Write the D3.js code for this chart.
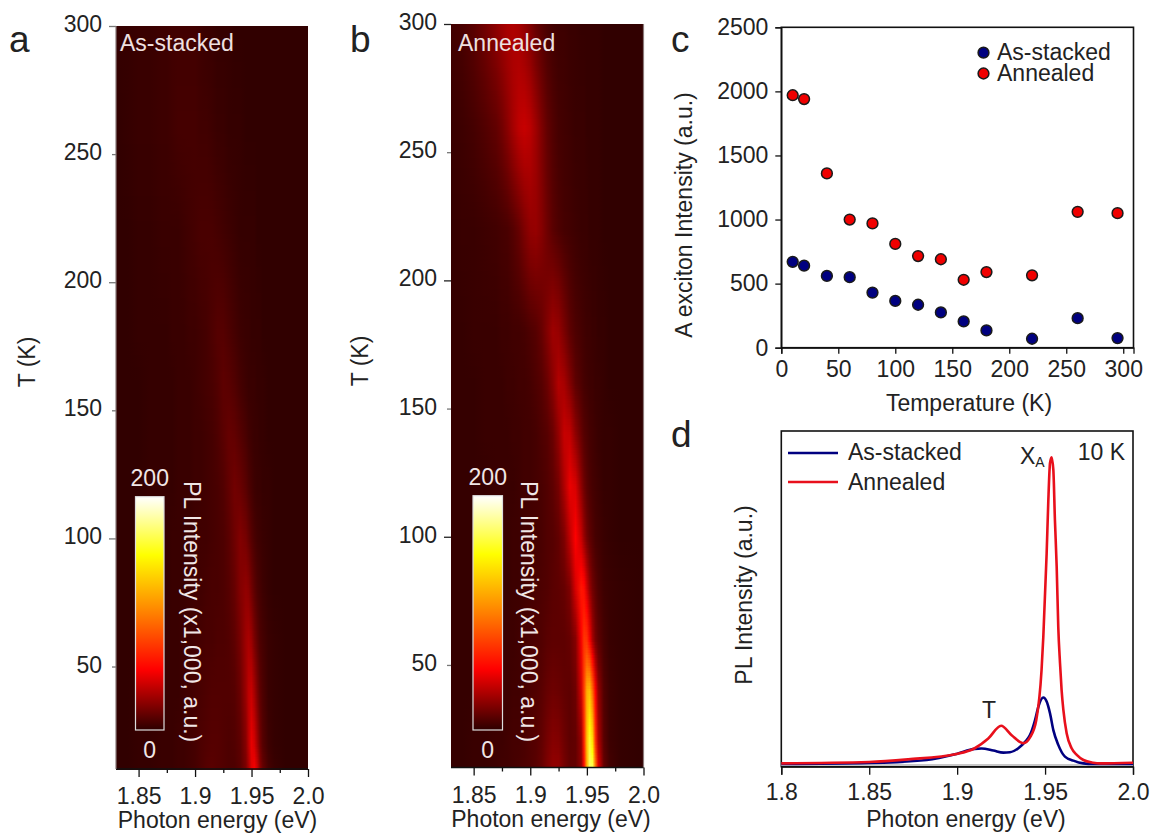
<!DOCTYPE html>
<html>
<head>
<meta charset="utf-8">
<script src="https://cdn.jsdelivr.net/npm/d3@7"></script>
<style>
  body { margin: 0; background: #fff; }
  svg { display: block; font-family: "Liberation Sans", Arial, sans-serif; }
  text { fill: #222; }
</style>
</head>
<body>
<svg id="fig" width="1154" height="834"></svg>
<script>
// panel a, b: PL maps, one row per temperature, one value per energy (x1,000 a.u.)
const mapEnergies = [1.83, 1.84, 1.85, 1.86, 1.87, 1.875, 1.88, 1.885, 1.89, 1.895, 1.9, 1.905, 1.91, 1.915, 1.92, 1.925, 1.93, 1.935, 1.94, 1.945, 1.9475, 1.95, 1.9525, 1.955, 1.9575, 1.96, 1.965, 1.97, 1.98, 2.0];
const mapTemps = [10, 20, 40, 60, 80, 100, 120, 140, 160, 180, 220, 260, 300];
const mapAsStacked = [
  [1, 1, 2, 2, 3, 3, 3, 4, 4, 5, 6, 8, 10, 11, 10, 9, 8, 8, 11, 19, 30, 44, 50, 40, 23, 14, 6, 3, 1, 1],
  [1, 1, 2, 2, 3, 3, 3, 4, 4, 5, 6, 8, 9, 10, 10, 9, 8, 9, 12, 22, 35, 46, 41, 29, 17, 10, 4, 2, 1, 1],
  [1, 1, 2, 2, 2, 3, 3, 3, 4, 5, 6, 7, 8, 9, 9, 9, 9, 10, 15, 27, 36, 38, 30, 20, 12, 8, 3, 2, 1, 1],
  [1, 1, 1, 2, 2, 3, 3, 3, 4, 4, 5, 6, 7, 7, 8, 8, 9, 12, 18, 28, 31, 27, 19, 13, 8, 6, 3, 2, 1, 1],
  [1, 1, 1, 2, 2, 2, 3, 3, 3, 4, 5, 5, 6, 7, 7, 8, 10, 14, 21, 25, 23, 17, 12, 8, 6, 4, 2, 1, 1, 1],
  [1, 1, 1, 2, 2, 2, 3, 3, 3, 3, 4, 5, 5, 6, 7, 8, 11, 16, 21, 18, 14, 10, 7, 5, 4, 3, 2, 1, 1, 1],
  [1, 1, 1, 2, 2, 2, 2, 3, 3, 3, 4, 4, 5, 6, 7, 9, 13, 17, 15, 11, 8, 6, 4, 3, 3, 2, 2, 1, 1, 1],
  [1, 1, 1, 2, 2, 2, 2, 3, 3, 3, 4, 4, 5, 6, 8, 11, 14, 13, 10, 7, 5, 4, 3, 3, 2, 2, 1, 1, 1, 1],
  [1, 1, 1, 2, 2, 2, 2, 3, 3, 3, 4, 5, 6, 7, 9, 12, 11, 9, 6, 4, 3, 3, 3, 2, 2, 2, 1, 1, 1, 1],
  [1, 1, 2, 2, 2, 2, 3, 3, 3, 4, 4, 5, 6, 8, 10, 10, 8, 6, 4, 3, 3, 2, 2, 2, 2, 1, 1, 1, 1, 1],
  [1, 1, 2, 2, 3, 3, 3, 3, 4, 5, 6, 7, 7, 7, 6, 5, 4, 3, 2, 2, 2, 2, 2, 1, 1, 1, 1, 1, 1, 1],
  [1, 2, 3, 3, 4, 4, 5, 6, 6, 6, 6, 5, 5, 4, 3, 3, 2, 2, 2, 1, 1, 1, 1, 1, 1, 1, 1, 1, 1, 1],
  [2, 2, 3, 3, 4, 4, 5, 5, 5, 5, 5, 4, 3, 3, 2, 2, 2, 1, 1, 1, 1, 1, 1, 1, 1, 1, 1, 1, 1, 1],
];
const mapAnnealed = [
  [2, 2, 3, 3, 4, 5, 5, 6, 7, 8, 9, 11, 14, 20, 25, 25, 18, 13, 13, 24, 55, 118, 170, 168, 100, 46, 14, 6, 2, 1],
  [2, 2, 3, 3, 4, 4, 5, 6, 6, 7, 9, 10, 13, 18, 22, 21, 16, 12, 13, 25, 64, 125, 160, 138, 72, 34, 11, 4, 2, 1],
  [2, 2, 2, 3, 3, 4, 4, 5, 5, 6, 8, 9, 11, 14, 16, 15, 13, 12, 16, 40, 75, 118, 125, 92, 52, 26, 9, 4, 2, 1],
  [2, 2, 2, 3, 3, 3, 4, 4, 5, 6, 7, 8, 9, 11, 12, 12, 12, 14, 22, 50, 72, 70, 50, 30, 18, 12, 6, 3, 2, 1],
  [2, 2, 2, 2, 3, 3, 3, 4, 4, 5, 6, 7, 8, 9, 11, 12, 14, 20, 42, 60, 56, 40, 26, 17, 12, 8, 4, 3, 2, 1],
  [2, 2, 2, 2, 3, 3, 3, 4, 4, 5, 6, 6, 7, 9, 10, 13, 20, 36, 52, 38, 26, 17, 12, 9, 6, 5, 3, 2, 1, 1],
  [2, 2, 2, 2, 3, 3, 3, 3, 4, 5, 5, 6, 7, 9, 12, 18, 32, 47, 42, 24, 16, 11, 8, 6, 5, 4, 2, 2, 1, 1],
  [2, 2, 2, 3, 3, 3, 3, 4, 4, 5, 5, 6, 8, 10, 15, 25, 38, 37, 24, 14, 10, 8, 6, 5, 4, 3, 2, 2, 1, 1],
  [2, 2, 2, 3, 3, 3, 4, 4, 5, 5, 6, 8, 10, 15, 23, 33, 30, 21, 12, 8, 6, 5, 4, 4, 3, 3, 2, 1, 1, 1],
  [2, 2, 3, 3, 3, 4, 4, 5, 5, 6, 8, 10, 14, 21, 28, 26, 19, 12, 8, 6, 5, 4, 4, 3, 3, 2, 2, 1, 1, 1],
  [2, 3, 3, 4, 5, 6, 7, 10, 14, 20, 25, 26, 22, 16, 11, 8, 6, 5, 4, 3, 3, 3, 2, 2, 2, 2, 1, 1, 1, 1],
  [3, 4, 6, 9, 13, 17, 23, 30, 36, 38, 35, 28, 20, 13, 9, 6, 5, 4, 3, 3, 3, 2, 2, 2, 2, 2, 1, 1, 1, 1],
  [5, 7, 11, 17, 24, 28, 31, 32, 30, 25, 20, 14, 10, 7, 5, 4, 4, 3, 3, 2, 2, 2, 2, 2, 2, 2, 1, 1, 1, 1],
];
const colorStops = [0, 52, 100, 150, 200];
const colorValues = ['#2d0000', '#ff0000', '#ff8000', '#ffff00', '#ffffff'];

// panel c
const tempPoints = [10, 20, 40, 60, 80, 100, 120, 140, 160, 180, 220, 260, 295];
const excitonAsStacked = [670, 640, 560, 550, 430, 365, 335, 275, 205, 135, 70, 230, 75];
const excitonAnnealed = [1970, 1940, 1360, 1000, 970, 810, 715, 690, 530, 590, 565, 1060, 1050];

// panel d, 10 K spectra
const specEnergyAsStacked = [1.8, 1.85, 1.8827, 1.8997, 1.91, 1.9139, 1.9206, 1.9263, 1.93, 1.9348, 1.9386, 1.9414, 1.9443, 1.9462, 1.949, 1.9509, 1.9528, 1.9547, 1.9575, 1.9613, 1.9661, 1.9718, 1.9774, 2.0];
const specAsStacked = [8, 11, 20, 38, 53, 54, 48, 42, 43, 55, 74, 94, 139, 179, 206, 194, 159, 109, 65, 30, 18, 10, 8, 8];
const specEnergyAnnealed = [1.8, 1.85, 1.8722, 1.8997, 1.91, 1.9177, 1.925, 1.931, 1.9376, 1.9416, 1.945, 1.948, 1.949, 1.9509, 1.9518, 1.9528, 1.9537, 1.9547, 1.9556, 1.9566, 1.9575, 1.9585, 1.9594, 1.9604, 1.9623, 1.9651, 1.968, 1.9718, 1.9774, 1.9812, 2.0];
const specAnnealed = [10, 14, 22, 38, 55, 84, 122, 94, 70, 89, 139, 288, 387, 636, 785, 904, 922, 884, 735, 596, 417, 308, 228, 169, 99, 55, 35, 20, 12, 10, 12];

const mapMajorX = [1.85, 1.9, 1.95, 2.0];
const mapMinorX = [1.875, 1.925, 1.975];
const mapMajorY = [100, 200, 300];
const mapMinorY = [50, 150, 250];
const mapLabelsY = [50, 100, 150, 200, 250, 300];

const fontSize = 23;
const svg = d3.select('#fig');
const defs = svg.append('defs');
const color = d3.scaleLinear().domain(colorStops).range(colorValues).clamp(true);

function addText(x, y, str, opts = {}) {
  const t = svg.append('text')
    .attr('x', x)
    .attr('y', y)
    .attr('font-size', opts.size || fontSize)
    .attr('text-anchor', opts.anchor || 'start')
    .text(str);
  if (opts.fill) t.style('fill', opts.fill);
  if (opts.rotate) t.attr('transform', `rotate(${opts.rotate},${x},${y})`);
  return t;
}

function styleAxis(g, strokeColor = '#111') {
  g.selectAll('.domain').attr('stroke', strokeColor).attr('stroke-width', 1.3);
  g.selectAll('.tick line').attr('stroke', strokeColor).attr('stroke-width', 1.3);
  g.selectAll('text').attr('font-size', fontSize).attr('font-family', null).style('fill', '#222');
}

function rowAt(matrix, T) {
  const i = Math.min(d3.bisectRight(mapTemps, T) - 1, mapTemps.length - 2);
  const k = (T - mapTemps[i]) / (mapTemps[i + 1] - mapTemps[i]);
  return matrix[i].map((v, j) => v + (matrix[i + 1][j] - v) * k);
}

function renderMap(id, matrix, box, edgeSide) {
  const x = d3.scaleLinear().domain([1.83, 2.0]).range([box.left, box.right]);
  const y = d3.scaleLinear().domain([10, 300]).range([box.bottom, box.top]);
  const chart = svg.append('g').attr('shape-rendering', 'crispEdges');

  // one horizontal gradient strip per kelvin
  d3.range(10, 300, 1).forEach((T) => {
    const values = rowAt(matrix, T + 0.5);
    const grad = defs.append('linearGradient').attr('id', `${id}-${T}`);
    mapEnergies.forEach((e, j) => {
      grad.append('stop')
        .attr('offset', (x(e) - box.left) / (box.right - box.left))
        .attr('stop-color', color(values[j]));
    });
    chart.append('rect')
      .attr('x', box.left)
      .attr('y', y(T + 1))
      .attr('width', box.right - box.left)
      .attr('height', y(T) - y(T + 1) + 0.6)
      .attr('fill', `url(#${id}-${T})`);
  });

  const bottom = svg.append('g').attr('transform', `translate(0,${box.bottom})`);
  bottom.call(d3.axisBottom(x).tickValues(mapMajorX).tickSize(8).tickPadding(11)
    .tickFormat((d) => (d === 2 ? '2.0' : String(d))));
  styleAxis(bottom);
  bottom.select('.domain').attr('d', `M${box.left},0H${box.right}`);

  const bottomMinor = svg.append('g').attr('transform', `translate(0,${box.bottom})`);
  bottomMinor.call(d3.axisBottom(x).tickValues(mapMinorX).tickSize(4).tickFormat(''));
  styleAxis(bottomMinor);
  bottomMinor.select('.domain').remove();

  const left = svg.append('g').attr('transform', `translate(${box.left},0)`);
  left.call(d3.axisLeft(y).tickValues(mapMajorY).tickSize(7).tickFormat(''));
  styleAxis(left, edgeSide === 'left' ? '#777' : '#222');
  left.select('.domain').remove();

  const leftMinor = svg.append('g').attr('transform', `translate(${box.left},0)`);
  leftMinor.call(d3.axisLeft(y).tickValues(mapMinorY).tickSize(4).tickFormat(''));
  styleAxis(leftMinor, '#777');
  leftMinor.select('.domain').remove();

  svg.append('line')
    .attr('x1', edgeSide === 'left' ? box.left : box.right)
    .attr('x2', edgeSide === 'left' ? box.left : box.right)
    .attr('y1', box.top)
    .attr('y2', box.bottom)
    .attr('stroke', '#8a7a7a')
    .attr('stroke-width', 1.2);

  mapLabelsY.forEach((t) => {
    addText(box.left - 14, y(t) + 6, String(t), { anchor: 'end' });
  });
}

function renderColorbar(id, box) {
  const scale = d3.scaleLinear().domain([0, 200]).range([box.bottom, box.top]);
  const grad = defs.append('linearGradient')
    .attr('id', id)
    .attr('x1', 0).attr('x2', 0).attr('y1', 1).attr('y2', 0);
  colorStops.forEach((v, i) => {
    grad.append('stop').attr('offset', v / 200).attr('stop-color', colorValues[i]);
  });
  svg.append('rect')
    .attr('x', box.left)
    .attr('y', scale(200))
    .attr('width', box.right - box.left)
    .attr('height', scale(0) - scale(200))
    .attr('fill', `url(#${id})`)
    .attr('stroke', '#ddd')
    .attr('stroke-width', 1.2);
  const mid = (box.left + box.right) / 2;
  addText(mid, scale(200) - 11, '200', { anchor: 'middle', fill: '#f0e6e6' });
  addText(mid, scale(0) + 28, '0', { anchor: 'middle', fill: '#f0e6e6' });
  addText(box.labelX, 481, 'PL Intensity (x1,000, a.u.)', { rotate: 90, fill: '#f0e6e6' });
}

function renderScatter() {
  const box = { left: 781.3, right: 1133.5, top: 27.3, bottom: 347.7 };
  const x = d3.scaleLinear().domain([0, 309]).range([box.left, box.right]);
  const y = d3.scaleLinear().domain([0, 2500]).range([box.bottom, box.top]);

  svg.append('rect')
    .attr('x', box.left).attr('y', box.top)
    .attr('width', box.right - box.left).attr('height', box.bottom - box.top)
    .attr('fill', 'none').attr('stroke', '#111').attr('stroke-width', 1.6);

  const bottom = svg.append('g').attr('transform', `translate(0,${box.bottom})`);
  bottom.call(d3.axisBottom(x).tickValues(d3.range(0, 301, 50)).tickSize(6).tickPadding(7).tickFormat(d3.format('d')));
  styleAxis(bottom);
  const left = svg.append('g').attr('transform', `translate(${box.left},0)`);
  left.call(d3.axisLeft(y).tickValues(d3.range(0, 2501, 500)).tickSize(6).tickPadding(7).tickFormat(d3.format('d')));
  styleAxis(left);

  [[excitonAsStacked, '#000080'], [excitonAnnealed, '#f00000']].forEach(([vals, fill]) => {
    svg.append('g').selectAll('circle').data(tempPoints).join('circle')
      .attr('cx', (d) => x(d))
      .attr('cy', (d, i) => y(vals[i]))
      .attr('r', 5.4)
      .attr('fill', fill)
      .attr('stroke', '#1a1a1a')
      .attr('stroke-width', 1.5);
  });

  // legend
  [['As-stacked', '#000080', 52.7], ['Annealed', '#f00000', 73.5]].forEach(([name, fill, ly]) => {
    svg.append('circle').attr('cx', 983.5).attr('cy', ly).attr('r', 5.4)
      .attr('fill', fill).attr('stroke', '#1a1a1a').attr('stroke-width', 1.5);
    addText(997, ly + 7, name);
  });

  addText(969, 411, 'Temperature (K)', { anchor: 'middle' });
  addText(692, 215, 'A exciton Intensity (a.u.)', { anchor: 'middle', rotate: -90 });
}

function renderSpectra() {
  const box = { left: 781.3, right: 1133, top: 431, bottom: 766.7 };
  const x = d3.scaleLinear().domain([1.8, 2.0]).range([box.left, box.right]);
  const y = d3.scaleLinear().domain([0, 1000]).range([box.bottom, box.top]);

  svg.append('rect')
    .attr('x', box.left).attr('y', box.top)
    .attr('width', box.right - box.left).attr('height', box.bottom - box.top)
    .attr('fill', 'none').attr('stroke', '#111').attr('stroke-width', 1.6);

  // pale baseline just above the axis
  svg.append('line')
    .attr('x1', x(1.8)).attr('x2', x(2.0))
    .attr('y1', y(5)).attr('y2', y(5))
    .attr('stroke', '#c8c8c8').attr('stroke-width', 2);

  const bottom = svg.append('g').attr('transform', `translate(0,${box.bottom})`);
  bottom.call(d3.axisBottom(x).tickValues([1.8, 1.85, 1.9, 1.95, 2.0]).tickSize(8).tickPadding(9)
    .tickFormat((d) => (d === 2 ? '2.0' : String(d))));
  styleAxis(bottom);

  const line = d3.line().x((d) => x(d[0])).y((d) => y(d[1])).curve(d3.curveMonotoneX);
  [[specEnergyAsStacked, specAsStacked, '#000080'], [specEnergyAnnealed, specAnnealed, '#e8101c']].forEach(([es, vs, c]) => {
    svg.append('path')
      .attr('d', line(es.map((e, i) => [e, vs[i]])))
      .attr('fill', 'none')
      .attr('stroke', c)
      .attr('stroke-width', 2.6);
  });

  [['As-stacked', '#000080', 453, 459.5], ['Annealed', '#e8101c', 482, 490]].forEach(([name, c, ly, ty]) => {
    svg.append('line').attr('x1', 788).attr('x2', 838).attr('y1', ly).attr('y2', ly)
      .attr('stroke', c).attr('stroke-width', 2.6);
    addText(848, ty, name);
  });

  const xa = addText(1020, 464, 'X');
  xa.append('tspan').attr('font-size', 14).attr('dy', 3).text('A');
  addText(1125, 460, '10 K', { anchor: 'end' });
  addText(989, 718, 'T', { anchor: 'middle' });
  addText(966, 827, 'Photon energy (eV)', { anchor: 'middle' });
  addText(752, 595, 'PL Intensity (a.u.)', { anchor: 'middle', rotate: -90 });
}

const boxA = { left: 116, right: 308, top: 26, bottom: 769 };
const boxB = { left: 451, right: 643.5, top: 24, bottom: 767.5 };

renderMap('mapA', mapAsStacked, boxA, 'left');
renderMap('mapB', mapAnnealed, boxB, 'right');
renderColorbar('barA', { left: 135.5, right: 164, top: 496.7, bottom: 730, labelX: 184 });
renderColorbar('barB', { left: 473, right: 502.5, top: 495.7, bottom: 730, labelX: 521 });
addText(120, 51, 'As-stacked', { fill: '#eee0e0' });
addText(458, 51, 'Annealed', { fill: '#eee0e0' });
addText(35, 362, 'T (K)', { anchor: 'middle', rotate: -90 });
addText(368, 361, 'T (K)', { anchor: 'middle', rotate: -90 });
addText(217.5, 828, 'Photon energy (eV)', { anchor: 'middle' });
addText(551, 827, 'Photon energy (eV)', { anchor: 'middle' });

renderScatter();
renderSpectra();

addText(9, 52, 'a', { size: 37 });
addText(350, 52, 'b', { size: 37 });
addText(671, 52, 'c', { size: 37 });
addText(671, 447, 'd', { size: 37 });
</script>
</body>
</html>
